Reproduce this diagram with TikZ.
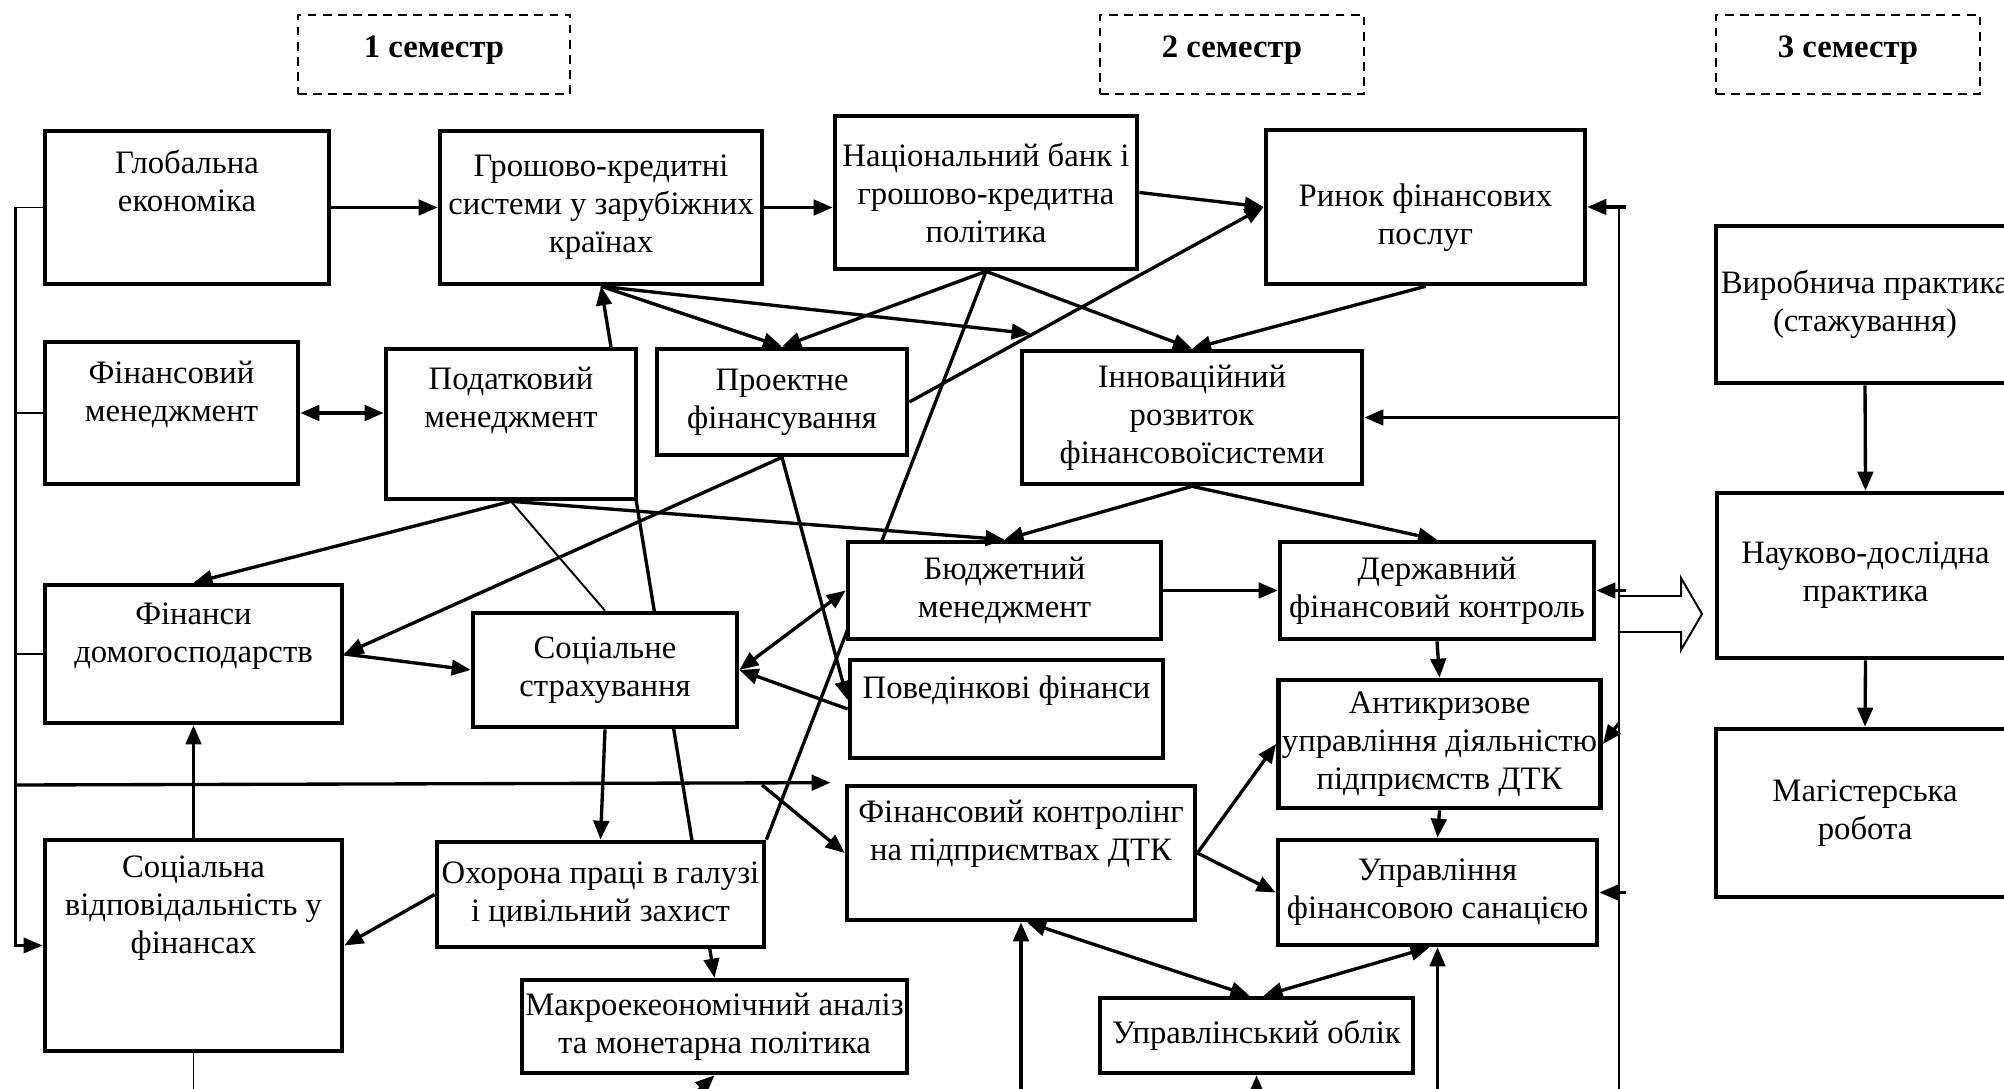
\documentclass[tikz,border=0pt]{standalone}
\usepackage{fontspec}
\setmainfont{Liberation Serif}
\usepackage{tikz}
\usetikzlibrary{arrows.meta}
\usetikzlibrary{calc}
\usetikzlibrary{backgrounds}
\newcommand{\boxfont}{\fontsize{9.3}{10.8}\selectfont}
\tikzstyle{box} = [draw, line width=1.3pt, fill=white, align=center, inner sep=1pt]
\tikzstyle{sembox} = [draw, dash pattern=on 2.5pt off 1.8pt, line width=0.6pt, minimum width=2.64cm, minimum height=0.79cm, text depth=4.3pt, font=\boxfont\bfseries]
\tikzstyle{txt} = [align=center, inner sep=0pt]
\tikzstyle{link} = [line width=0.95pt]
\tikzstyle{thinline} = [line width=0.55pt]
\tikzstyle{arrow} = [line width=0.95pt, -{Triangle[length=5.4pt, width=4.4pt]}]
\tikzstyle{darrow} = [line width=0.95pt, {Triangle[length=5.4pt, width=4.4pt]}-{Triangle[length=5.4pt, width=4.4pt]}]
\tikzstyle{thinarrow} = [line width=0.65pt, -{Triangle[length=5.4pt, width=4.4pt]}]

\begin{document}
\begin{tikzpicture}[x=0.01cm, y=-0.01cm, font=\boxfont]
	\useasboundingbox (0,0) rectangle (2004,1089);
	\clip (0,0) rectangle (2004,1089);
	
	% Semesters
	\node (sem1) [sembox, minimum width=2.72cm] at (434,54.5) {1 семестр};
	\node (sem2) [sembox] at (1232,54.5) {2 семестр};
	\node (sem3) [sembox] at (1848,54.5) {3 семестр};
	
	% First row
	\node (glob) [box,
	minimum width = 2.84cm,
	minimum height = 1.53cm
	] at (187,207.5) {};
	\node (glob-t) [txt] at ([yshift=0.27cm]glob.center) {Глобальна\\економіка};
	
	\node (gros) [box,
	minimum width = 3.22cm,
	minimum height = 1.53cm
	] at (601,207.5) {Грошово-кредитні\\системи у зарубіжних\\країнах};
	
	\node (nbu) [box,
	minimum width = 3.02cm,
	minimum height = 1.53cm
	] at (986,192.5) {Національний банк і\\грошово-кредитна\\політика};
	
	\node (rynok) [box,
	minimum width = 3.19cm,
	minimum height = 1.54cm
	] at (1425.5,207) {};
	\node (rynok-t) [txt] at ([yshift=-0.11cm]rynok.center) {Ринок фінансових\\послуг};
	
	% Second row
	\node (finmen) [box,
	minimum width = 2.53cm,
	minimum height = 1.42cm
	] at (171.5,413) {};
	\node (finmen-t) [txt] at ([yshift=0.19cm]finmen.center) {Фінансовий\\менеджмент};
	
	\node (podat) [box,
	minimum width = 2.50cm,
	minimum height = 1.50cm
	] at (511,424) {};
	\node (podat-t) [txt] at ([yshift=0.24cm]podat.center) {Податковий\\менеджмент};
	
	\node (proekt) [box,
	minimum width = 2.50cm,
	minimum height = 1.06cm
	] at (782,402) {Проектне\\фінансування};
	
	\node (innov) [box,
	minimum width = 3.40cm,
	minimum height = 1.33cm
	] at (1192,417.5) {Інноваційний\\розвиток\\фінансовоїсистеми};
	
	% Middle
	\node (findom) [box,
	minimum width = 2.97cm,
	minimum height = 1.38cm
	] at (193.5,654) {};
	\node (findom-t) [txt] at ([yshift=0.18cm]findom.center) {Фінанси\\домогосподарств};
	
	\node (socstr) [box,
	minimum width = 2.64cm,
	minimum height = 1.14cm
	] at (605,670) {Соціальне\\страхування};
	
	\node (budg) [box,
	minimum width = 3.13cm,
	minimum height = 0.97cm
	] at (1004.5,590.5) {Бюджетний\\менеджмент};
	
	\node (povid) [box,
	minimum width = 3.13cm,
	minimum height = 0.98cm
	] at (1006.5,709) {};
	\node (povid-t) [txt] at ([yshift=0.18cm]povid.center) {Поведінкові фінанси};
	
	\node (derzh) [box,
	minimum width = 3.14cm,
	minimum height = 0.97cm
	] at (1437,590.5) {Державний\\фінансовий контроль};
	
	\node (antykr) [box,
	minimum width = 3.19cm,
	minimum height = 1.28cm
	] at (1439.5,744) {Антикризове\\управління діяльністю\\підприємств ДТК};
	
	\node (finkontr) [box,
	minimum width = 3.48cm,
	minimum height = 1.34cm
	] at (1021,853) {};
	\node (finkontr-t) [txt] at ([yshift=0.19cm]finkontr.center) {Фінансовий контролінг\\на підприємтвах ДТК};
	
	\node (sanac) [box,
	minimum width = 3.19cm,
	minimum height = 1.05cm
	] at (1437.5,892.5) {Управління\\фінансовою санацією};
	
	% Bottom
	\node (sockvid) [box,
	minimum width = 2.97cm,
	minimum height = 2.11cm
	] at (193.5,945.5) {};
	\node (sockvid-t) [txt] at ([yshift=0.37cm]sockvid.center) {Соціальна\\відповідальність у\\фінансах};
	
	\node (okhor) [box,
	minimum width = 3.27cm,
	minimum height = 1.05cm
	] at (600.5,894.5) {Охорона праці в галузі\\і цивільний захист};
	
	\node (makro) [box,
	minimum width = 3.83cm,
	minimum height = 0.93cm
	] at (714.5,1026.5) {Макроекеономічний аналіз\\та монетарна політика};
	
	\node (oblik) [box,
	minimum width = 3.13cm,
	minimum height = 0.75cm
	] at (1256.5,1035.5) {Управлінський облік};
	
	% Third semester
	\node (vyrob) [box,
	minimum width = 2.98cm,
	minimum height = 1.57cm
	] at (1865,304.5) {Виробнича практика\\(стажування)};
	
	\node (nauk) [box,
	minimum width = 2.97cm,
	minimum height = 1.65cm
	] at (1865.5,575.5) {Науково-дослідна\\практика};
	
	\node (magist) [box,
	minimum width = 2.98cm,
	minimum height = 1.68cm
	] at (1865,813) {Магістерська\\робота};
	
	% Lines hidden behind the boxes
	\begin{pgfonlayer}{background}
		\draw[darrow] (gros.south) -- (makro.north);
		\draw[link] (nbu.south) -- (okhor.north east);
	\end{pgfonlayer}
	
	% Top connections
	\draw[arrow] (glob.east) -- (gros.west);
	\draw[arrow] (gros.east) -- (gros.east -| nbu.west);
	\draw[arrow] (nbu.east) -- (rynok.west);
	\draw[arrow] (proekt.east) -- (rynok.west);
	\draw[darrow] (finmen.east) -- (finmen.east -| podat.west);
	\draw[arrow] (gros.south) -- (proekt.north);
	\draw[arrow] (nbu.south) -- (proekt.north);
	\draw[arrow] (gros.south) -- ($(innov.north west)+(11,-15)$);
	\draw[arrow] (nbu.south) -- (innov.north);
	\draw[arrow] (rynok.south) -- (innov.north);
	
	% Middle connections
	\draw[arrow] (podat.south) -- (findom.north);
	\draw[arrow] (podat.south) -- (budg.north);
	\draw[thinline] (podat.south) -- (socstr.north);
	\draw[arrow] (proekt.south) -- (findom.east);
	\draw[arrow] (proekt.south) -- ($(povid.west)+(0,-9)$);
	\draw[arrow] (innov.south) -- (budg.north);
	\draw[arrow] (innov.south) -- (derzh.north);
	\draw[arrow] (findom.east) -- (socstr.west);
	\draw[darrow] (socstr.east) -- (budg.west);
	\draw[arrow] (povid.west) -- (socstr.east);
	\draw[arrow] (budg.east) -- (derzh.west);
	\draw[arrow] (derzh.south) -- (antykr.north);
	\draw[arrow] (antykr.south) -- (sanac.north);
	
	% Lower connections
	\draw[arrow] (socstr.south) -- (okhor.north);
	\draw[arrow] (sockvid.north) -- (findom.south);
	\draw[arrow] (okhor.west) -- (sockvid.east);
	\draw[arrow] (finkontr.east) -- (antykr.west);
	\draw[arrow] (finkontr.east) -- (sanac.west);
	\draw[darrow] ($(finkontr.south)+(6,0)$) -- ($(oblik.north)+(-7,0)$);
	\draw[darrow] ($(sanac.south)+(-8,0)$) -- ($(oblik.north)+(7,0)$);
	
	% From below the page
	\coordinate (makroin) at (688,1100);
	\draw[arrow] (makroin) -- (makro.south);
	\draw[arrow] (finkontr.south |- makroin) -- (finkontr.south);
	\draw[arrow] (oblik.south |- makroin) -- (oblik.south);
	\draw[arrow] (sanac.south |- makroin) -- (sanac.south);
	\draw[thinline] (sockvid.south) -- (sockvid.south |- makroin);
	
	% Left bus
	\coordinate (lbus) at (15.6,208);
	\draw[thinline] (glob.west) -- (glob.west -| lbus);
	\draw[thinarrow] (glob.west -| lbus) |- (sockvid.west);
	\draw[thinline] (finmen.west) -- (finmen.west -| lbus);
	\draw[thinline] (findom.west) -- (findom.west -| lbus);
	\coordinate (split) at (762,785);
	\draw[arrow] (lbus |- split) -- ($(finkontr.north west)+(-14,-1)$);
	\draw[arrow] (split) -- (finkontr.west);
	
	% Right bus
	\coordinate (rbus) at (1619,207);
	\draw[thinline] (rbus) -- (rbus |- makroin);
	\draw[arrow] ($(rbus)+(7,0)$) -- (rynok.east);
	\draw[arrow] (innov.east -| rbus) -- (innov.east);
	\draw[arrow] ($(derzh.east -| rbus)+(7,0)$) -- (derzh.east);
	\draw[arrow] (rbus |- 0,723) -- (antykr.east);
	\draw[arrow] ($(sanac.east -| rbus)+(7,0)$) -- (sanac.east);
	\draw[thinline] (rbus |- 0,596) -- (1681,596) -- (1681,578) -- (1702,614)
	-- (1681,650) -- (1681,632) -- (rbus |- 0,632);
	
	% Third semester
	\draw[arrow] (vyrob.south) -- (nauk.north);
	\draw[arrow] (nauk.south) -- (magist.north);
\end{tikzpicture}
\end{document}
